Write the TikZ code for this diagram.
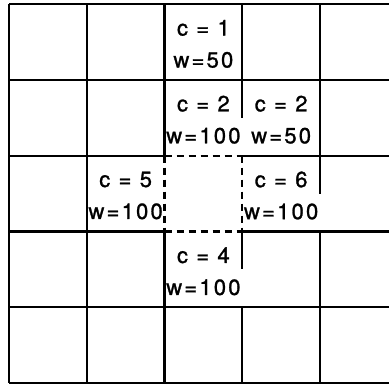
\documentclass[tikz,border=0pt]{standalone}
\usepackage{fontspec}
\setmainfont{TeX Gyre Heros}[LetterSpace=10,FakeBold=1.2]
\usetikzlibrary{positioning}

\begin{document}
\begin{tikzpicture}[
  x=77.75pt, y=-75.8pt,
  gridline/.style={line width=2.2pt, black},
  dashline/.style={line width=2.2pt, black, dash pattern=on 7pt off 5pt},
  cellnote/.style={
    align=center, inner sep=0pt, yshift=-2pt,
    font=\fontsize{22}{32}\selectfont
  },
]
\useasboundingbox (-0.1158,-0.0528) rectangle (4.887,5.026);

% --- Horizontal lines ---
\foreach \r in {0,1,4,5}
  \draw[gridline] (0,\r) -- (4.887,\r);
\foreach \r in {2,3} {
  \draw[gridline] (0,\r) -- (2,\r);
  \draw[dashline] (2,\r) -- (3,\r);
  \draw[gridline] (3,\r) -- (4.887,\r);
}

% --- Vertical lines ---
\foreach \c in {0,1}
  \draw[gridline] (\c,0) -- (\c,5);
% column line left of the open cell
\draw[gridline] (2,0) -- (2,2);
\draw[dashline] (2,2) -- (2,3);
\draw[gridline] (2,3) -- (2,5);
% column line right of the open cell (some parts only half way down)
\draw[gridline] (3,0) -- (3,1.5);
\draw[dashline] (3,2) -- (3,3);
\draw[gridline] (3,3) -- (3,3.5);
\draw[gridline] (3,4) -- (3,5);
% last column line
\draw[gridline] (4,0) -- (4,2.5);
\draw[gridline] (4,3) -- (4,5);

% --- Cell labels ---
\node[cellnote] (top) at (2.5,0.5) {c = 1\\w=50};
\node[cellnote] (upleft) at (2.5,1.5) {c = 2\\w=100};
\node[cellnote] (upright) at (3.5,1.5) {c = 2\\w=50};
\node[cellnote] (left) at (1.5,2.5) {c = 5\\w=100};
\node[cellnote] (right) at (3.5,2.5) {c = 6\\w=100};
\node[cellnote] (bottom) at (2.5,3.5) {c = 4\\w=100};

\end{tikzpicture}
\end{document}
